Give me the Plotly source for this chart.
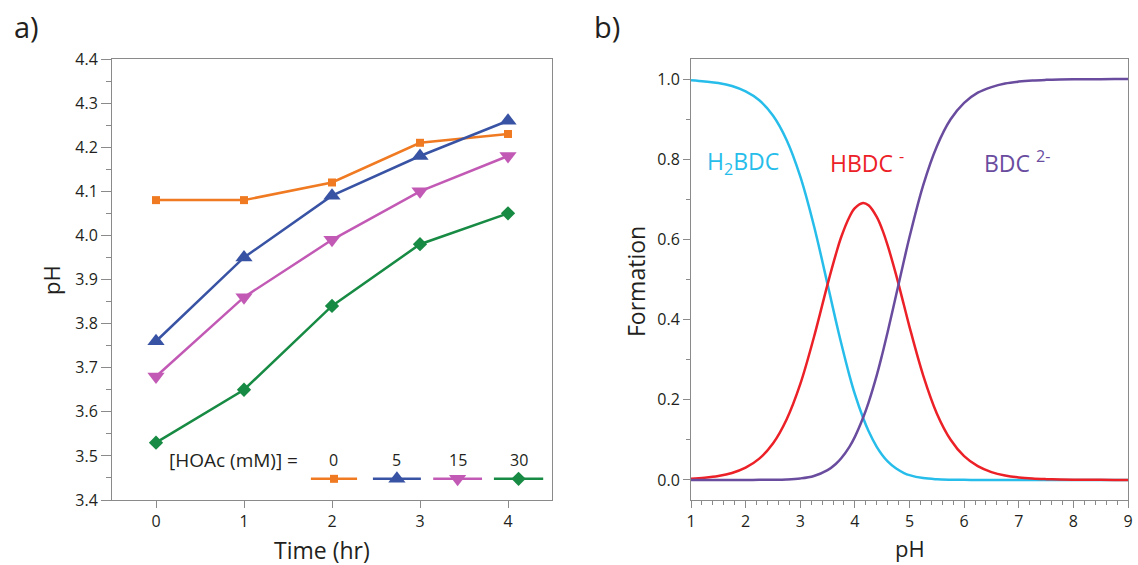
import plotly.graph_objects as go

# ---- panel a: pH vs time for different acetic acid loadings ----
time_hr = [0, 1, 2, 3, 4]
hoac_labels = ["0", "5", "15", "30"]
ph_0mM = [4.08, 4.08, 4.12, 4.21, 4.23]
ph_5mM = [3.76, 3.95, 4.09, 4.18, 4.26]
ph_15mM = [3.68, 3.86, 3.99, 4.10, 4.18]
ph_30mM = [3.53, 3.65, 3.84, 3.98, 4.05]

# ---- panel b: speciation of terephthalic acid ----
ph_grid = [1.0, 1.25, 1.5, 1.75, 2.0, 2.25, 2.5, 2.75, 3.0, 3.25, 3.5, 3.65,
           3.75, 3.9, 4.0, 4.15, 4.25, 4.4, 4.5, 4.6, 4.75, 4.9, 5.0, 5.25,
           5.5, 5.75, 6.0, 6.25, 6.5, 6.75, 7.0, 7.25, 7.5, 7.75, 8.0, 8.25,
           8.5, 8.75, 9.0]
h2bdc = [0.997, 0.994, 0.990, 0.9825, 0.969, 0.947, 0.909, 0.848, 0.757, 0.634,
         0.488, 0.398, 0.341, 0.261, 0.214, 0.155, 0.122, 0.0826, 0.0625,
         0.0464, 0.029, 0.0173, 0.012, 0.0046, 0.0017, 0.0006, 0.0002, 0.0001,
         0.0, 0.0, 0.0, 0.0, 0.0, 0.0, 0.0, 0.0, 0.0, 0.0, 0.0]
hbdc = [0.003, 0.0056, 0.0099, 0.0175, 0.0307, 0.0532, 0.0909, 0.151, 0.239,
        0.356, 0.488, 0.562, 0.606, 0.656, 0.678, 0.691, 0.685, 0.656, 0.625,
        0.585, 0.514, 0.435, 0.382, 0.261, 0.166, 0.101, 0.0593, 0.0343,
        0.0196, 0.0111, 0.0063, 0.0035, 0.0020, 0.0011, 0.0006, 0.0004,
        0.0002, 0.0001, 0.0001]
bdc = [0.0, 0.0, 0.0, 0.0, 0.0001, 0.0002, 0.0005, 0.0013, 0.0038, 0.010,
       0.0244, 0.0398, 0.054, 0.0826, 0.1075, 0.155, 0.193, 0.261, 0.313,
       0.369, 0.458, 0.548, 0.606, 0.735, 0.832, 0.899, 0.9405, 0.966, 0.980,
       0.989, 0.9937, 0.9965, 0.998, 0.9989, 0.9994, 0.9996, 0.9998, 0.9999,
       0.9999]

FONT = "Open Sans"
INK = "#231F20"
AXIS = "#8a8a8a"
W, H = 1138, 565

def px_x(p):
    return p / W

def px_y(p):
    return 1 - p / H

series_a = [
    (ph_0mM, "#F07A22", "square", 8),
    (ph_5mM, "#3953A4", "triangle-up", 15),
    (ph_15mM, "#C25AB5", "triangle-down", 15),
    (ph_30mM, "#178A43", "diamond", 11),
]

fig = go.Figure()

for ys, col, sym, sz in series_a:
    fig.add_trace(go.Scatter(
        x=time_hr, y=ys, mode="lines+markers", xaxis="x", yaxis="y",
        line=dict(color=col, width=2.5),
        marker=dict(symbol=sym, size=sz, color=col, line=dict(width=0)),
        showlegend=False, hoverinfo="skip"))

# legend keys drawn on a hidden overlay axis spanning the left plot
key_spans = [(0.452, 0.557), (0.593, 0.702), (0.730, 0.841), (0.868, 0.980)]
key_y = 0.048
for (x0, x1), (_, col, sym, sz), lab in zip(key_spans, series_a, hoac_labels):
    xm = (x0 + x1) / 2
    fig.add_trace(go.Scatter(
        x=[x0, x1], y=[key_y, key_y], mode="lines",
        xaxis="x3", yaxis="y3", line=dict(color=col, width=2.5),
        showlegend=False, hoverinfo="skip"))
    fig.add_trace(go.Scatter(
        x=[xm], y=[key_y], mode="markers", xaxis="x3", yaxis="y3",
        marker=dict(symbol=sym, size=sz, color=col, opacity=1,
                    line=dict(width=0)),
        showlegend=False, hoverinfo="skip"))
    fig.add_annotation(x=xm, y=0.091, xref="x3", yref="y3", text=lab,
                       showarrow=False, font=dict(family=FONT, size=16, color=INK))
fig.add_annotation(x=0.125, y=0.091, xref="x3", yref="y3", xanchor="left",
                   text="[HOAc (mM)] =", showarrow=False,
                   font=dict(family=FONT, size=19, color=INK))

for ys, col in [(h2bdc, "#27BDEA"), (hbdc, "#EC2027"), (bdc, "#6A4C9F")]:
    fig.add_trace(go.Scatter(
        x=ph_grid, y=ys, mode="lines", xaxis="x2", yaxis="y2",
        line=dict(color=col, width=2.5, shape="spline", smoothing=1.0),
        showlegend=False, hoverinfo="skip"))

tickfont = dict(family=FONT, size=16, color=INK)
common = dict(showline=True, linecolor=AXIS, linewidth=1, mirror=True,
              ticks="outside", tickcolor=AXIS, tickwidth=1, showgrid=False,
              zeroline=False, tickfont=tickfont, automargin=False)

left_dom_x = [px_x(112), px_x(552)]
right_dom_x = [px_x(691), px_x(1128)]
dom_y = [px_y(500), px_y(59)]

fig.update_layout(
    width=W, height=H,
    margin=dict(l=0, r=0, t=0, b=0, autoexpand=False),
    paper_bgcolor="white", plot_bgcolor="white",
    xaxis=dict(domain=left_dom_x, range=[-0.5, 4.5], tickvals=time_hr,
               ticklen=7, anchor="y", **common),
    yaxis=dict(domain=dom_y, range=[3.4, 4.4], dtick=0.1, tick0=3.4,
               tickformat=".1f", ticklen=10, anchor="x",
               minor=dict(dtick=0.05, ticklen=5, ticks="outside",
                          tickcolor=AXIS), **common),
    xaxis2=dict(domain=right_dom_x, range=[1, 9], dtick=1, tick0=1,
                ticklen=7, anchor="y2",
                minor=dict(dtick=0.2, ticklen=4, ticks="outside",
                           tickcolor=AXIS), **common),
    yaxis2=dict(domain=dom_y, range=[-0.05, 1.05], dtick=0.2, tick0=0,
                tickformat=".1f", ticklen=7, anchor="x2",
                minor=dict(dtick=0.1, ticklen=4, ticks="outside",
                           tickcolor=AXIS), **common),
    xaxis3=dict(domain=left_dom_x, range=[0, 1], visible=False,
                overlaying="x", anchor="y3", automargin=False),
    yaxis3=dict(domain=dom_y, range=[0, 1], visible=False,
                overlaying="y", anchor="x3", automargin=False),
)

def note(text, x, y, size, color=INK, angle=0, xanchor="center"):
    fig.add_annotation(x=px_x(x), y=px_y(y), xref="paper", yref="paper",
                       text=text, showarrow=False, textangle=angle,
                       xanchor=xanchor, yanchor="middle",
                       font=dict(family=FONT, size=size, color=color))

# panel letters and axis titles
note("a)", 26, 27, 29)
note("b)", 607, 27, 29)
note("pH", 51, 280, 22, angle=-90)
note("Time (hr)", 322, 550, 23)
note("Formation", 636, 282, 23, angle=-90)
note("pH", 910, 548, 22)

# species labels
note("H<sub>2</sub>BDC", 705, 162, 23, "#27BDEA", xanchor="left")
note("HBDC <sup>-</sup>", 828, 162, 23, "#EC2027", xanchor="left")
note("BDC <sup>2-</sup>", 982, 162, 23, "#6A4C9F", xanchor="left")

fig.write_html("out.html")
